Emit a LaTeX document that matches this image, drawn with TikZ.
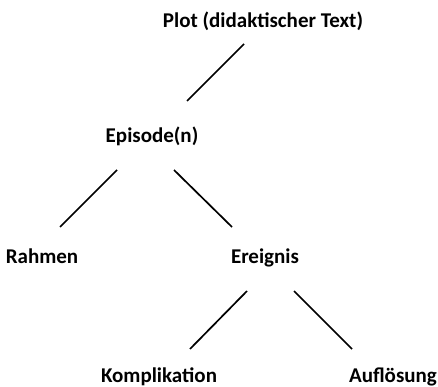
\documentclass[tikz,border=0pt]{standalone}
\usepackage{fontspec}
\setmainfont{Carlito}
\usetikzlibrary{calc}
\begin{document}
\begin{tikzpicture}[x=1pt,y=-1pt,
  lbl/.style={font=\bfseries\fontsize{21}{25}\selectfont, inner sep=0pt, text height=14pt, text depth=4pt, anchor=base},
  edge/.style={line width=1.7pt}]
\useasboundingbox (0,0) rectangle (438,387);
\node[lbl] (plot) at (263,28) {Plot (didaktischer Text)};
\node[lbl] (epi) at (152,143) {Episode(n)};
\node[lbl] (rah) at (42,263) {Rahmen};
\node[lbl] (ere) at (265,263) {Ereignis};
\node[lbl] (kom) at (159,382) {Komplikation};
\node[lbl] (auf) at (393,382) {Auflösung};
\draw[edge] ($(plot.center)+(-19,21)$) -- ($(epi.center)+(35,-37)$);
\draw[edge] ($(epi.center)+(-35,32)$) -- ($(rah.center)+(18,-31)$);
\draw[edge] ($(epi.center)+(22,32)$) -- ($(ere.center)+(-33,-31)$);
\draw[edge] ($(ere.center)+(-18,33)$) -- ($(kom.center)+(31,-28)$);
\draw[edge] ($(ere.center)+(29,33)$) -- ($(auf.center)+(-41,-28)$);
\end{tikzpicture}
\end{document}
